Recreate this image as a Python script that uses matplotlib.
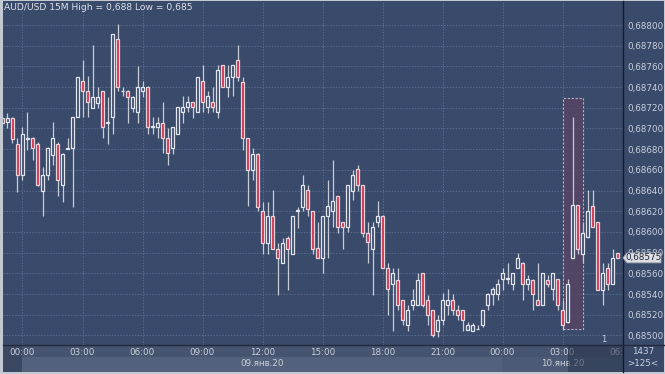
import numpy as np
import pandas as pd
import matplotlib
matplotlib.use('Agg')
import matplotlib.pyplot as plt
import matplotlib.patches as patches
from matplotlib.ticker import FuncFormatter

W, H = 665, 374

# 15M candles, first one starts 08.01.2020 23:00
start_time = "2020-01-08 23:00"

opens = [
    0.68710, 0.68706, 0.68710, 0.68685, 0.68655, 0.68690, 0.68691, 0.68685, 0.68640, 0.68655,
    0.68674, 0.68685, 0.68645, 0.68680, 0.68681, 0.68711, 0.68746, 0.68736, 0.68720, 0.68725,
    0.68736, 0.68705, 0.68711, 0.68786, 0.68736, 0.68736, 0.68720, 0.68716, 0.68736, 0.68740,
    0.68701, 0.68701, 0.68705, 0.68691, 0.68681, 0.68695, 0.68716, 0.68721, 0.68726, 0.68716,
    0.68746, 0.68721, 0.68726, 0.68716, 0.68761, 0.68740, 0.68750, 0.68766, 0.68745, 0.68691,
    0.68660, 0.68675, 0.68620, 0.68589, 0.68615, 0.68584, 0.68570, 0.68594, 0.68579, 0.68620,
    0.68624, 0.68641, 0.68620, 0.68585, 0.68575, 0.68615, 0.68620, 0.68635, 0.68610, 0.68605,
    0.68640, 0.68661, 0.68645, 0.68599, 0.68584, 0.68610, 0.68615, 0.68565, 0.68550, 0.68554,
    0.68534, 0.68510, 0.68529, 0.68529, 0.68560, 0.68534, 0.68525, 0.68504, 0.68515, 0.68529,
    0.68534, 0.68525, 0.68525, 0.68505, 0.68504, 0.68506, 0.68510, 0.68529, 0.68540, 0.68540,
    0.68555, 0.68555, 0.68550, 0.68565, 0.68570, 0.68550, 0.68554, 0.68534, 0.68529, 0.68554,
    0.68545, 0.68555, 0.68525, 0.68513, 0.68575, 0.68626, 0.68579, 0.68595, 0.68625, 0.68610,
    0.68544, 0.68565, 0.68550, 0.68580,
]
highs = [
    0.68713, 0.68715, 0.68711, 0.68691, 0.68701, 0.68716, 0.68692, 0.68687, 0.68663, 0.68682,
    0.68706, 0.68687, 0.68676, 0.68691, 0.68711, 0.68750, 0.68766, 0.68751, 0.68781, 0.68740,
    0.68736, 0.68730, 0.68791, 0.68801, 0.68740, 0.68737, 0.68731, 0.68760, 0.68746, 0.68741,
    0.68711, 0.68711, 0.68726, 0.68700, 0.68701, 0.68721, 0.68731, 0.68731, 0.68726, 0.68750,
    0.68761, 0.68736, 0.68740, 0.68761, 0.68761, 0.68761, 0.68761, 0.68781, 0.68750, 0.68691,
    0.68681, 0.68676, 0.68629, 0.68629, 0.68641, 0.68589, 0.68594, 0.68596, 0.68615, 0.68624,
    0.68655, 0.68645, 0.68620, 0.68610, 0.68615, 0.68650, 0.68670, 0.68635, 0.68610, 0.68645,
    0.68660, 0.68665, 0.68645, 0.68610, 0.68610, 0.68630, 0.68616, 0.68570, 0.68565, 0.68565,
    0.68534, 0.68529, 0.68545, 0.68560, 0.68560, 0.68539, 0.68525, 0.68520, 0.68541, 0.68545,
    0.68540, 0.68529, 0.68525, 0.68513, 0.68512, 0.68510, 0.68525, 0.68541, 0.68547, 0.68555,
    0.68565, 0.68570, 0.68560, 0.68580, 0.68571, 0.68558, 0.68555, 0.68570, 0.68560, 0.68558,
    0.68560, 0.68555, 0.68534, 0.68555, 0.68711, 0.68626, 0.68610, 0.68641, 0.68641, 0.68610,
    0.68570, 0.68570, 0.68584, 0.68580,
]
lows = [
    0.68702, 0.68700, 0.68686, 0.68639, 0.68650, 0.68679, 0.68670, 0.68644, 0.68615, 0.68650,
    0.68665, 0.68635, 0.68629, 0.68680, 0.68624, 0.68711, 0.68711, 0.68711, 0.68720, 0.68720,
    0.68691, 0.68685, 0.68695, 0.68736, 0.68731, 0.68705, 0.68716, 0.68705, 0.68730, 0.68695,
    0.68695, 0.68691, 0.68676, 0.68665, 0.68675, 0.68695, 0.68705, 0.68716, 0.68710, 0.68716,
    0.68716, 0.68715, 0.68716, 0.68710, 0.68740, 0.68730, 0.68731, 0.68746, 0.68679, 0.68625,
    0.68650, 0.68620, 0.68579, 0.68579, 0.68584, 0.68539, 0.68570, 0.68544, 0.68579, 0.68604,
    0.68620, 0.68615, 0.68579, 0.68575, 0.68560, 0.68575, 0.68605, 0.68599, 0.68584, 0.68600,
    0.68631, 0.68640, 0.68595, 0.68570, 0.68539, 0.68605, 0.68565, 0.68520, 0.68504, 0.68525,
    0.68510, 0.68504, 0.68525, 0.68529, 0.68528, 0.68510, 0.68499, 0.68499, 0.68510, 0.68520,
    0.68520, 0.68515, 0.68504, 0.68505, 0.68504, 0.68506, 0.68508, 0.68525, 0.68529, 0.68534,
    0.68544, 0.68550, 0.68544, 0.68565, 0.68534, 0.68544, 0.68525, 0.68529, 0.68529, 0.68547,
    0.68534, 0.68525, 0.68505, 0.68512, 0.68575, 0.68579, 0.68570, 0.68594, 0.68605, 0.68544,
    0.68529, 0.68544, 0.68550, 0.68575,
]
closes = [
    0.68705, 0.68710, 0.68690, 0.68655, 0.68695, 0.68691, 0.68681, 0.68645, 0.68655, 0.68681,
    0.68691, 0.68650, 0.68675, 0.68681, 0.68711, 0.68750, 0.68736, 0.68726, 0.68730, 0.68730,
    0.68701, 0.68706, 0.68791, 0.68740, 0.68736, 0.68730, 0.68730, 0.68740, 0.68740, 0.68701,
    0.68702, 0.68705, 0.68691, 0.68676, 0.68701, 0.68721, 0.68721, 0.68726, 0.68721, 0.68750,
    0.68726, 0.68731, 0.68721, 0.68757, 0.68740, 0.68750, 0.68761, 0.68750, 0.68691, 0.68660,
    0.68675, 0.68624, 0.68589, 0.68615, 0.68584, 0.68575, 0.68589, 0.68584, 0.68615, 0.68621,
    0.68645, 0.68622, 0.68584, 0.68575, 0.68615, 0.68625, 0.68630, 0.68605, 0.68605, 0.68645,
    0.68655, 0.68645, 0.68599, 0.68590, 0.68605, 0.68615, 0.68565, 0.68545, 0.68560, 0.68529,
    0.68515, 0.68525, 0.68534, 0.68554, 0.68529, 0.68520, 0.68500, 0.68515, 0.68534, 0.68534,
    0.68525, 0.68520, 0.68515, 0.68510, 0.68510, 0.68506, 0.68525, 0.68540, 0.68545, 0.68550,
    0.68560, 0.68556, 0.68560, 0.68575, 0.68550, 0.68555, 0.68540, 0.68529, 0.68560, 0.68550,
    0.68560, 0.68529, 0.68510, 0.68550, 0.68626, 0.68584, 0.68599, 0.68620, 0.68605, 0.68544,
    0.68560, 0.68550, 0.68575, 0.68575,
]

time_ticks = [0, 3, 6, 9, 12, 15, 18, 21, 24, 27, 30]
time_labels = ["00:00", "03:00", "06:00", "09:00", "12:00", "15:00",
               "18:00", "21:00", "00:00", "03:00", "06:00"]
date_pos = [12, 27]
date_labels = ["09.янв.20", "10.янв.20"]
price_ticks = np.round(np.arange(0.68500, 0.688001, 0.0002), 5)
last_price = 0.68575
title = "AUD/USD 15M High = 0,688 Low = 0,685"

BG = "#3a4a6a"
TXT = "#c9d0dc"
GRID = "#586a8e"


def fx(px):
    return px / W


def fy(py):
    return 1 - py / H


def fig_rect(fig, x0, y0, x1, y1, color, z=0, alpha=1.0):
    fig.add_artist(patches.Rectangle((fx(x0), fy(y1)), fx(x1) - fx(x0), fy(y0) - fy(y1),
                                     transform=fig.transFigure, facecolor=color,
                                     edgecolor="none", zorder=z, alpha=alpha))


times = pd.date_range(start_time, periods=len(opens), freq="15min")
x = ((times - pd.Timestamp("2020-01-09 00:00")) / pd.Timedelta("1h")).to_numpy()
o = np.array(opens)
h = np.array(highs)
l = np.array(lows)
c = np.array(closes)

fig = plt.figure(figsize=(W / 100, H / 100), dpi=100, facecolor="#c3c9d3")

# panels
fig_rect(fig, 3, 1, 664, 345, BG, z=-2)
fig_rect(fig, 3, 345, 664, 372, "#46546f", z=-2)
fig_rect(fig, 3, 345, 22, 372, "#3b4862", z=-1)
fig_rect(fig, 22, 357, 502, 372, "#53617c", z=-1)
fig_rect(fig, 502, 357, 623, 372, "#4c5a75", z=-1)
fig_rect(fig, 623, 345, 664, 372, "#3a4868", z=-1)

ax = fig.add_axes([fx(3), fy(345), fx(623) - fx(3), fy(1) - fy(345)])
ax.set_facecolor(BG)
for s in ax.spines.values():
    s.set_visible(False)

ax.set_xlim((3 - 22.5) / 20, (623 - 22.5) / 20)
ax.set_ylim(0.688 - 320 * 9.662e-6, 0.688 + 24 * 9.662e-6)

ax.set_xticks(time_ticks)
ax.set_xticklabels(time_labels)
ax.set_yticks(price_ticks)
ax.yaxis.set_major_formatter(FuncFormatter(lambda v, p: f"{v:.5f}".replace(".", ",")))
ax.yaxis.tick_right()
ax.tick_params(axis="both", length=0, labelsize=6.3, colors=TXT)
ax.tick_params(axis="x", pad=2.5)
ax.tick_params(axis="y", pad=3)
ax.grid(True, color=GRID, linestyle=(0, (1.5, 1.5)), linewidth=0.7)
ax.set_axisbelow(True)

# time labels are cut at the price-scale border
clip_box = patches.Rectangle((fx(3), 0), fx(623) - fx(3), 1, transform=fig.transFigure)
for lbl in ax.get_xticklabels():
    lbl.set_clip_path(clip_box)

# highlighted block
ax.add_patch(patches.Rectangle((27.04, 0.68506), 1.0, 0.00223, facecolor="#5a4363",
                               alpha=0.75, edgecolor="#d8d6e0", linestyle=(0, (2, 1.5)),
                               linewidth=0.8, zorder=1))

# candles
bw = 0.25 * 0.7
up = c >= o
top = np.maximum(o, c)
bot = np.minimum(o, c)
ax.vlines(x, top, h, color="#c7ccd7", linewidth=0.9, zorder=2)
ax.vlines(x, l, bot, color="#c7ccd7", linewidth=0.9, zorder=2)
height = np.maximum(top - bot, 1e-7)
ax.bar(x[up], height[up], bottom=bot[up], width=bw, facecolor=BG,
       edgecolor="#e2e5ec", linewidth=0.9, zorder=3)
ax.bar(x[~up], height[~up], bottom=bot[~up], width=bw, facecolor="#d3304c",
       edgecolor="#e6d3da", linewidth=0.9, zorder=3)

# date row
for pos, lab in zip(date_pos, date_labels):
    ax.text(pos, -18 / 344, lab, transform=ax.get_xaxis_transform(), ha="center",
            va="center", fontsize=6.3, color=TXT)

fig.text(fx(604), fy(340), "1", fontsize=6, color=TXT, ha="center", va="center")

# dim overlay at right end of time axis
fig_rect(fig, 568, 345, 623, 372, "#27324a", z=5, alpha=0.55)

# borders
fig.add_artist(plt.Line2D([fx(623), fx(623)], [fy(1), fy(372)], transform=fig.transFigure,
                          color="#141a26", linewidth=1.0, zorder=6))
fig.add_artist(plt.Line2D([fx(3), fx(664)], [fy(345), fy(345)], transform=fig.transFigure,
                          color="#222b3d", linewidth=1.0, zorder=6))

# corner box
fig.text(fx(643), fy(352), "1437", fontsize=6.3, color=TXT, ha="center", va="center", zorder=7)
fig.text(fx(643), fy(364), ">125<", fontsize=6.3, color=TXT, ha="center", va="center", zorder=7)

# title
fig.text(fx(4), fy(8), title, fontsize=6.6, color="#dde2ea", ha="left", va="center")

# last price marker
py = 25 + (0.688 - last_price) / 9.662e-6
marker = patches.Polygon([(fx(623), fy(py)), (fx(627), fy(py - 5)), (fx(661), fy(py - 5)),
                          (fx(661), fy(py + 5)), (fx(627), fy(py + 5))], closed=True,
                         transform=fig.transFigure, facecolor="#dcdee2",
                         edgecolor="#9aa2b0", linewidth=0.6, zorder=8)
fig.add_artist(marker)
fig.text(fx(644), fy(py), f"{last_price:.5f}".replace(".", ","), fontsize=6.3,
         color="#1e2638", ha="center", va="center", zorder=9)

fig.savefig("out.png", dpi=100, facecolor=fig.get_facecolor())
